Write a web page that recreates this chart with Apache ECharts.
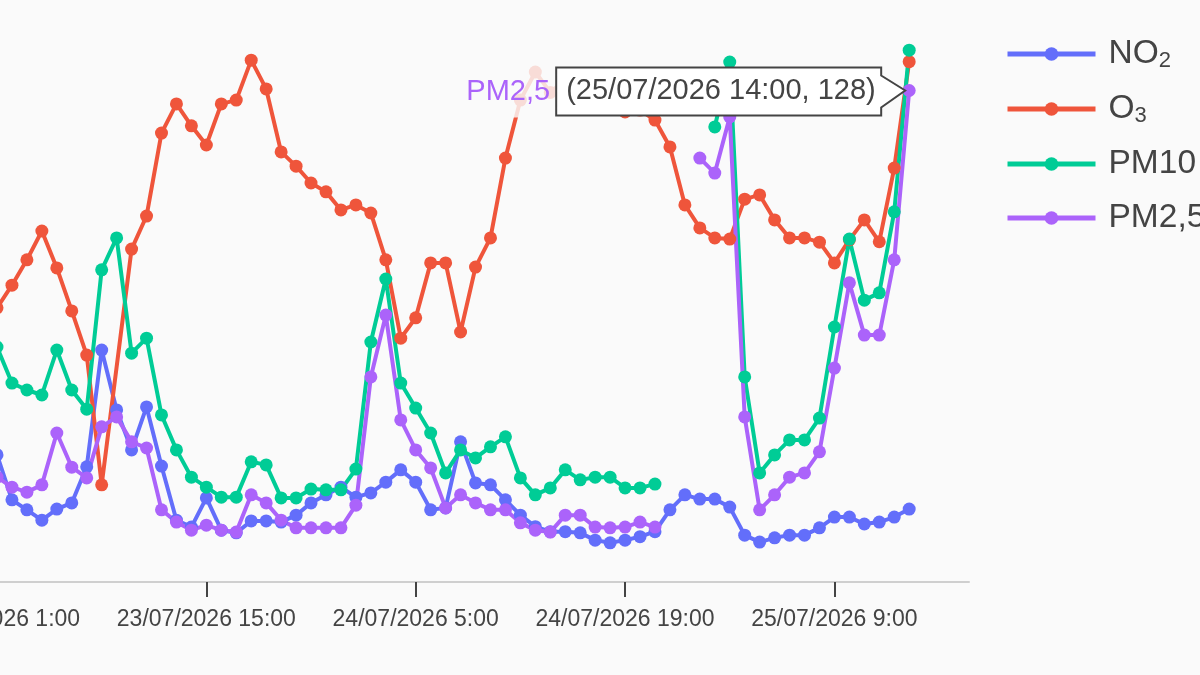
<!DOCTYPE html>
<html>

<head>
  <meta charset="utf-8" />
  <title></title>
  <script src="https://cdn.jsdelivr.net/npm/echarts@6/dist/echarts.min.js"></script>
  <style>
    html, body { margin: 0; padding: 0; background: #fafafa; }
  </style>
</head>

<body>
  <div id="chart" style="width: 1200px;height:675px;"></div>
  <script type="text/javascript">
    // hourly categories, 23/07/2026 1:00 .. 25/07/2026 18:00
    var hours = [
      '23/07/2026 1:00', '23/07/2026 2:00', '23/07/2026 3:00', '23/07/2026 4:00', '23/07/2026 5:00', '23/07/2026 6:00',
      '23/07/2026 7:00', '23/07/2026 8:00', '23/07/2026 9:00', '23/07/2026 10:00', '23/07/2026 11:00', '23/07/2026 12:00',
      '23/07/2026 13:00', '23/07/2026 14:00', '23/07/2026 15:00', '23/07/2026 16:00', '23/07/2026 17:00', '23/07/2026 18:00',
      '23/07/2026 19:00', '23/07/2026 20:00', '23/07/2026 21:00', '23/07/2026 22:00', '23/07/2026 23:00',
      '24/07/2026 0:00', '24/07/2026 1:00', '24/07/2026 2:00', '24/07/2026 3:00', '24/07/2026 4:00', '24/07/2026 5:00',
      '24/07/2026 6:00', '24/07/2026 7:00', '24/07/2026 8:00', '24/07/2026 9:00', '24/07/2026 10:00', '24/07/2026 11:00',
      '24/07/2026 12:00', '24/07/2026 13:00', '24/07/2026 14:00', '24/07/2026 15:00', '24/07/2026 16:00', '24/07/2026 17:00',
      '24/07/2026 18:00', '24/07/2026 19:00', '24/07/2026 20:00', '24/07/2026 21:00', '24/07/2026 22:00', '24/07/2026 23:00',
      '25/07/2026 0:00', '25/07/2026 1:00', '25/07/2026 2:00', '25/07/2026 3:00', '25/07/2026 4:00', '25/07/2026 5:00',
      '25/07/2026 6:00', '25/07/2026 7:00', '25/07/2026 8:00', '25/07/2026 9:00', '25/07/2026 10:00', '25/07/2026 11:00',
      '25/07/2026 12:00', '25/07/2026 13:00', '25/07/2026 14:00', '25/07/2026 15:00', '25/07/2026 16:00', '25/07/2026 17:00',
      '25/07/2026 18:00'
    ];

    var no2 = [
      33.1, 21.4, 18.8, 16.1, 19.0, 20.6, 30.0, 60.4, 44.8, 34.4, 45.6, 30.2, 16.1, 14.3,
      21.9, 13.5, 12.8, 15.9, 15.9, 15.6, 17.4, 20.6, 22.7, 24.7, 22.1, 23.2, 26.0, 29.2,
      26.0, 18.8, 19.3, 36.5, 25.8, 25.3, 21.4, 17.4, 14.4, 13.1, 13.1, 12.8, 10.9, 10.2,
      10.9, 11.8, 13.1, 18.8, 22.7, 21.6, 21.6, 19.5, 12.2, 10.4, 11.5, 12.2, 12.2, 14.1,
      16.9, 16.9, 15.1, 15.6, 16.9, 19.0
    ];
    var o3 = [
      71.4, 77.3, 83.9, 91.4, 81.8, 70.6, 59.1, 25.3, null, 86.7, 95.3, 116.9, 124.5, 118.8,
      113.8, 124.5, 125.5, 135.9, 128.4, 112.0, 108.3, 103.9, 101.6, 96.9, 98.2, 96.1, 83.9, 63.5,
      68.8, 83.1, 83.1, 65.1, 82.0, 89.6, 110.4, 125.5, 132.8, 127.5, 130.7, 128.6, 126.8, 125.5,
      122.4, 122.9, 120.3, 113.3, 98.2, 92.2, 89.6, 89.3, 99.7, 100.8, 94.3, 89.6, 89.6, 88.5,
      83.1, 89.1, 94.3, 88.6, 107.8, 135.5
    ];
    var pm10 = [
      61.2, 51.8, 50.0, 48.7, 60.4, 50.0, 45.0, 81.3, 89.6, 59.6, 63.5, 43.5, 34.4, 27.3,
      24.7, 22.1, 22.1, 31.3, 30.5, 21.9, 21.9, 24.2, 24.0, 24.0, 29.4, 62.5, 78.9, 51.8,
      45.3, 38.8, 28.4, 34.4, 32.3, 35.2, 37.8, 27.1, 22.7, 24.5, 29.2, 26.6, 27.3, 27.3,
      24.5, 24.5, 25.5, null, null, null, 118.5, 135.4, 53.4, 28.4, 33.1, 37.0, 37.0, 42.7,
      66.4, 89.3, 73.4, 75.3, 96.4, 138.5
    ];
    var pm25 = [
      27.3, 24.7, 23.4, 25.3, 38.8, 29.9, 27.1, 40.4, 43.0, 36.5, 34.9, 18.8, 15.6, 13.5,
      14.8, 13.5, 13.0, 22.7, 20.6, 16.1, 14.1, 14.1, 14.1, 14.1, 20.0, 53.4, 69.5, 42.2,
      34.4, 29.7, 19.3, 22.7, 20.6, 18.8, 18.8, 15.4, 13.5, 13.0, 17.4, 17.4, 14.3, 14.1,
      14.3, 15.6, 14.3, null, null, 110.4, 106.5, 121.1, 43.0, 18.8, 22.7, 27.3, 28.4, 33.9,
      55.7, 77.9, 64.3, 64.3, 83.9, 128
    ];

    var names = ['NO2', 'O3', 'PM10', 'PM2,5'];
    var colors = ['#636efa', '#EF553B', '#00cc96', '#ab63fa'];
    var values = [no2, o3, pm10, pm25];
    var hoverIndex = 61; // point under the hover box

    var font = 'Liberation Sans, Arial, sans-serif';

    var chart = echarts.init(document.getElementById('chart'));

    var series = names.map(function (n, i) {
      return {
        name: n,
        type: 'line',
        data: values[i],
        connectNulls: n === 'O3',
        symbol: 'circle',
        symbolSize: 13,
        showSymbol: true,
        showAllSymbol: true,
        color: colors[i],
        lineStyle: { width: 4, color: colors[i] },
        itemStyle: { color: colors[i] },
        emphasis: { disabled: true },
        animation: false
      };
    });

    var option = {
      backgroundColor: '#fafafa',
      animation: false,
      grid: { left: -3, right: 231, top: 6, bottom: 93, outerBoundsMode: 'none', containLabel: false },
      legend: {
        orient: 'vertical',
        left: 1000,
        top: 32,
        itemWidth: 88,
        itemHeight: 17,
        itemGap: 20,
        data: names,
        lineStyle: { width: 5 },
        formatter: function (name) {
          if (name === 'NO2') return '{t|NO}{s|2}';
          if (name === 'O3') return '{t|O}{s|3}';
          return '{t|' + name + '}';
        },
        textStyle: {
          color: '#444',
          fontFamily: font,
          padding: [0, 0, 0, 8],
          rich: {
            t: { fontSize: 33.5, lineHeight: 36, color: '#444', fontFamily: font },
            s: { fontSize: 22, padding: [14, 0, 0, 0], color: '#444', fontFamily: font }
          }
        }
      },
      xAxis: {
        type: 'category',
        data: hours,
        boundaryGap: false,
        axisLine: { lineStyle: { color: '#cfcfcf', width: 2 } },
        axisTick: { show: true, interval: 13, length: 15, lineStyle: { color: '#444', width: 2 } },
        axisLabel: {
          interval: 13,
          margin: 26,
          fontSize: 23,
          color: '#444',
          fontFamily: font
        },
        splitLine: { show: false }
      },
      yAxis: {
        type: 'value',
        min: 0,
        max: 150,
        show: false,
        splitLine: { show: false }
      },
      series: series
    };
    chart.setOption(option);

    // hover box drawn at the PM2,5 point
    var p = chart.convertToPixel({ seriesIndex: 3 }, [hoverIndex, pm25[hoverIndex]]);
    var px = p[0], py = p[1];
    var L = px - 353, R = px - 28, T = py - 23, B = py + 25;
    chart.setOption({
      graphic: [
        {
          type: 'rect', z: 100,
          shape: { x: L - 96, y: py - 26, width: 96, height: 53 },
          style: { fill: 'rgba(250,250,250,0.82)' }
        },
        {
          type: 'polygon', z: 101,
          shape: { points: [[L, T], [R, T], [R, T + 8], [px - 4, py], [R, B - 8], [R, B], [L, B]] },
          style: { fill: '#fff', stroke: '#444', lineWidth: 2 }
        },
        {
          type: 'text', z: 102,
          x: L + 10, y: py + 1,
          style: {
            text: '(' + hours[hoverIndex] + ', ' + pm25[hoverIndex] + ')',
            font: '29px ' + font, fill: '#444', verticalAlign: 'middle', align: 'left'
          }
        },
        {
          type: 'text', z: 102,
          x: L - 6, y: py + 2,
          style: {
            text: names[3],
            font: '29px ' + font, fill: colors[3], verticalAlign: 'middle', align: 'right'
          }
        }
      ]
    });

    window.onresize = function () {
      chart.resize();
    };
  </script>
</body>

</html>
